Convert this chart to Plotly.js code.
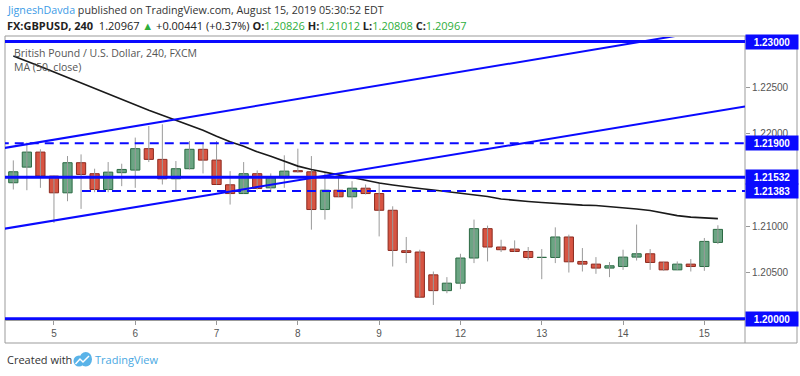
<!DOCTYPE html>
<html><head><meta charset="utf-8">
<script src="https://cdn.plot.ly/plotly-3.0.1.min.js"></script>
<style>html,body{margin:0;padding:0;background:#fff;} #chart{width:800px;height:376px;}</style>
</head><body><div id="chart"></div>
<script>
// ---- data ----
const dayLabels = ['5','6','7','8','9','12','13','14','15'];
const dayStartIndex = [3,9,15,21,27,33,39,45,51];

const openP  = [1.21472,1.21641,1.21804,1.21544,1.21363,1.21689,1.21570,1.21399,1.21581,1.21609,1.21841,1.21725,1.21515,1.21624,1.21834,1.21717,1.21450,1.21355,1.21570,1.21417,1.21526,1.21603,1.21591,1.21182,1.21391,1.21320,1.21413,1.21355,1.21174,1.20736,1.20722,1.20475,1.20304,1.20385,1.20657,1.20975,1.20776,1.20754,1.20728,1.20663,1.20663,1.20885,1.20620,1.20591,1.20548,1.20565,1.20667,1.20703,1.20613,1.20529,1.20591,1.20565,1.20826];
const highP  = [1.21714,1.21907,1.21834,1.21551,1.21761,1.21779,1.21624,1.21696,1.21678,1.21961,1.22087,1.22105,1.21707,1.21924,1.21907,1.21924,1.21598,1.21696,1.21605,1.21573,1.21769,1.21841,1.21761,1.21581,1.21551,1.21489,1.21453,1.21478,1.21217,1.20885,1.20747,1.20511,1.20450,1.20703,1.21073,1.21008,1.20855,1.20848,1.20776,1.20754,1.20989,1.20910,1.20765,1.20667,1.20613,1.20747,1.21019,1.20754,1.20613,1.20620,1.20646,1.20874,1.21012];
const lowP   = [1.21399,1.21391,1.21417,1.21037,1.21272,1.21189,1.21370,1.21370,1.21435,1.21417,1.21696,1.21453,1.21391,1.21616,1.21573,1.21453,1.21236,1.21355,1.21399,1.21370,1.21417,1.21581,1.20964,1.21073,1.21320,1.21192,1.21345,1.20891,1.20565,1.20602,1.20233,1.20149,1.20276,1.20320,1.20602,1.20620,1.20722,1.20722,1.20638,1.20428,1.20602,1.20500,1.20511,1.20486,1.20450,1.20529,1.20630,1.20529,1.20518,1.20529,1.20511,1.20518,1.20808];
const closeP = [1.21591,1.21804,1.21544,1.21363,1.21689,1.21562,1.21399,1.21587,1.21616,1.21841,1.21725,1.21515,1.21624,1.21834,1.21717,1.21453,1.21355,1.21570,1.21410,1.21526,1.21598,1.21591,1.21182,1.21391,1.21320,1.21413,1.21355,1.21174,1.20739,1.20717,1.20233,1.20304,1.20385,1.20657,1.20975,1.20776,1.20747,1.20728,1.20663,1.20665,1.20885,1.20616,1.20591,1.20548,1.20573,1.20667,1.20703,1.20609,1.20529,1.20591,1.20565,1.20837,1.20967];
const ma50   = [1.22845,1.22790,1.22731,1.22671,1.22611,1.22551,1.22497,1.22437,1.22377,1.22317,1.22258,1.22203,1.22149,1.22095,1.22040,1.21975,1.21915,1.21866,1.21807,1.21758,1.21703,1.21652,1.21616,1.21584,1.21557,1.21529,1.21497,1.21470,1.21448,1.21426,1.21410,1.21394,1.21377,1.21361,1.21345,1.21323,1.21296,1.21279,1.21269,1.21258,1.21247,1.21236,1.21230,1.21225,1.21214,1.21203,1.21187,1.21171,1.21144,1.21116,1.21100,1.21089,1.21084];

const solidLevels  = [1.23000, 1.21532, 1.20000];
const dashedLevels = [1.21900, 1.21383];
const dashedStartIdx = [-1, 5.07];
const channelUpperIdx   = [-1, 54];
const channelUpperPrice = [1.21840, 1.23187];
const channelLowerIdx   = [-1, 54];
const channelLowerPrice = [1.20966, 1.22297];
const yTickVals = [1.205, 1.210, 1.220, 1.225];
const changeText = '+0.00441 (+0.37%)';

// ---- build ----
const n = openP.length;
const idx = Array.from({length:n}, (_, i) => i);
const BLUE = '#0a0aff';
const UPF = '#6ba583', UPL = '#2b6a43', DNF = '#d75442', DNL = '#8c2a1f';

const wx = [], wy = [];
for (let i = 0; i < n; i++) { wx.push(i, i, null); wy.push(lowP[i], highP[i], null); }
const isUp = idx.map(i => closeP[i] >= openP[i]);
const base = idx.map(i => Math.min(openP[i], closeP[i]));
const hgt = idx.map(i => Math.max(Math.abs(closeP[i] - openP[i]), 0.00002));

const traces = [
  {type:'scatter', mode:'lines', x:wx, y:wy, line:{color:'#9a9a9a', width:1}, hoverinfo:'skip', showlegend:false},
  {type:'bar', x:idx, y:hgt, base:base, width:0.68,
   marker:{color:isUp.map(u => u ? UPF : DNF), line:{color:isUp.map(u => u ? UPL : DNL), width:1}},
   hoverinfo:'skip', showlegend:false},
  {type:'scatter', mode:'lines', x:idx, y:ma50, line:{color:'#1a1a1a', width:1.6}, hoverinfo:'skip', showlegend:false}
];

const L = 5, T = 37, W = 740, H = 283;
const px = x => (x - L) / W;
const py = y => (T + H - y) / H;

const shapes = [];
// frame
shapes.push({type:'rect', xref:'paper', yref:'paper', x0:0, x1:px(797), y0:py(343), y1:py(36), line:{color:'#9b9b9b', width:1}, layer:'below'});
shapes.push({type:'line', xref:'paper', yref:'paper', x0:1, x1:1, y0:py(343), y1:py(36), line:{color:'#9b9b9b', width:1}});
// channel lines
shapes.push({type:'line', xref:'x', yref:'y', x0:channelUpperIdx[0], x1:channelUpperIdx[1], y0:channelUpperPrice[0], y1:channelUpperPrice[1], line:{color:BLUE, width:2}});
shapes.push({type:'line', xref:'x', yref:'y', x0:channelLowerIdx[0], x1:channelLowerIdx[1], y0:channelLowerPrice[0], y1:channelLowerPrice[1], line:{color:BLUE, width:2}});
// horizontal levels
solidLevels.forEach(v => shapes.push({type:'line', xref:'paper', yref:'y', x0:0, x1:1, y0:v, y1:v, line:{color:BLUE, width:3}}));
dashedLevels.forEach((v, k) => shapes.push({type:'line', xref:'x', yref:'y', x0:dashedStartIdx[k], x1:60, y0:v, y1:v, line:{color:BLUE, width:2, dash:'9px,6px'}}));
// TradingView logo
const LOGO = '#5ab3e8';
shapes.push({type:'circle', xref:'paper', yref:'paper', x0:px(73.5), x1:px(84.5), y0:py(366.5), y1:py(355.5), fillcolor:LOGO, line:{width:0}});
shapes.push({type:'circle', xref:'paper', yref:'paper', x0:px(79.5), x1:px(92), y0:py(366.5), y1:py(352), fillcolor:LOGO, line:{width:0}});
shapes.push({type:'path', xref:'paper', yref:'paper',
  path:`M ${px(75.5)},${py(364)} L ${px(80)},${py(359)} L ${px(83)},${py(362)} L ${px(89)},${py(356)}`,
  line:{color:'#ffffff', width:1.5}});

const FONT = 'Open Sans, sans-serif';
const GREEN = '#2eae3b';
const last = n - 1;
const f5 = v => v.toFixed(5);
const annotations = [
  {xref:'paper', yref:'paper', x:0, y:py(10), xanchor:'left', yanchor:'middle', showarrow:false,
   text:'<span style="color:#3c9be6">JigneshDavda</span> published on TradingView.com, August 15, 2019 05:30:52 EDT',
   font:{family:FONT, size:10.7, color:'#333'}},
  {xref:'paper', yref:'paper', x:0, y:py(26), xanchor:'left', yanchor:'middle', showarrow:false,
   text:`<b>FX:GBPUSD, 240</b>  ${f5(closeP[last])} <span style="color:${GREEN}">▲</span> ${changeText} <b>O:</b><span style="color:${GREEN}">${f5(openP[last])}</span> <b>H:</b><span style="color:${GREEN}">${f5(highP[last])}</span> <b>L:</b><span style="color:${GREEN}">${f5(lowP[last])}</span> <b>C:</b><span style="color:${GREEN}">${f5(closeP[last])}</span>`,
   font:{family:FONT, size:11, color:'#222'}},
  {xref:'paper', yref:'paper', x:px(12), y:py(53), xanchor:'left', yanchor:'middle', showarrow:false,
   text:'British Pound / U.S. Dollar, 240, FXCM', font:{family:FONT, size:10.5, color:'#555'}},
  {xref:'paper', yref:'paper', x:px(12), y:py(67), xanchor:'left', yanchor:'middle', showarrow:false,
   text:'MA (50, close)', font:{family:FONT, size:10.5, color:'#555'}},
  {xref:'paper', yref:'paper', x:0, y:py(359), xanchor:'left', yanchor:'middle', showarrow:false,
   text:'Created with', font:{family:FONT, size:11, color:'#333'}},
  {xref:'paper', yref:'paper', x:px(92.5), y:py(359), xanchor:'left', yanchor:'middle', showarrow:false,
   text:'TradingView', font:{family:FONT, size:11, color:'#4aa8e2'}}
];
solidLevels.concat(dashedLevels).forEach(v => annotations.push({
  xref:'paper', yref:'y', x:1, y:v, xanchor:'left', yanchor:'middle', showarrow:false,
  text:'<b>' + f5(v) + '</b>', bgcolor:BLUE, width:48, height:10, borderpad:2, align:'center',
  font:{family:'Liberation Sans, Arial, sans-serif', size:10, color:'#ffffff'}
}));

const layout = {
  width:800, height:376, autosize:false,
  margin:{l:L, r:800 - L - W, t:T, b:376 - T - H, pad:0},
  paper_bgcolor:'#ffffff', plot_bgcolor:'#ffffff',
  showlegend:false, barmode:'overlay', dragmode:false, hovermode:false,
  xaxis:{type:'linear', range:[-0.613, 54.0], tickvals:dayStartIndex, ticktext:dayLabels,
         ticks:'outside', ticklen:4, tickcolor:'#999', showgrid:false, zeroline:false,
         showline:true, linecolor:'#9b9b9b', linewidth:1,
         tickfont:{family:'Liberation Sans, Arial, sans-serif', size:10, color:'#555'}, fixedrange:true},
  yaxis:{side:'right', range:[1.19986, 1.2305], tickvals:yTickVals, ticktext:yTickVals.map(f5),
         ticks:'outside', ticklen:4, tickcolor:'#999', showgrid:false, zeroline:false, showline:false,
         tickfont:{family:'Liberation Sans, Arial, sans-serif', size:10, color:'#555'}, fixedrange:true},
  shapes:shapes, annotations:annotations
};

Plotly.newPlot('chart', traces, layout, {staticPlot:true, displayModeBar:false});
</script>
</body></html>
